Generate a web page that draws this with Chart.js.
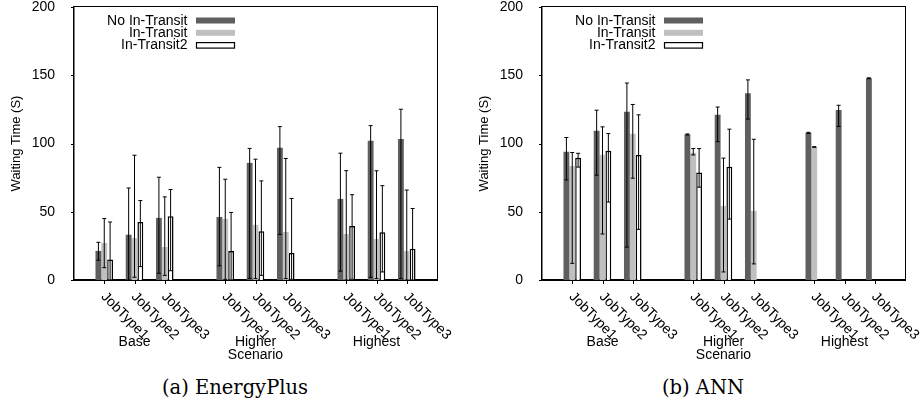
<!DOCTYPE html>
<html>
<head>
<meta charset="utf-8">
<script src="https://cdn.jsdelivr.net/npm/chart.js@4.4.1/dist/chart.umd.min.js"></script>
<style>
  html, body { margin: 0; padding: 0; background: #fff; }
  #page { position: relative; width: 923px; height: 406px; overflow: hidden; }
  .panel { position: absolute; top: 0; }
  .caption {
    position: absolute; top: 376px; width: 300px; text-align: center;
    font-family: "DejaVu Serif", serif; font-size: 19.5px; line-height: 24px; color: #000;
  }
  .frame { position: absolute; box-sizing: border-box; border: 1.5px solid #000; pointer-events: none; }
  .tick { position: absolute; background: #000; pointer-events: none; }
</style>
</head>
<body>
<div id="page">
  <canvas id="energyPlus" class="panel" width="461" height="370" style="left:0"></canvas>
  <canvas id="ann" class="panel" width="455" height="370" style="left:468px"></canvas>
  <div class="caption" style="left:85px">(a) EnergyPlus</div>
  <div class="caption" style="left:553px">(b) ANN</div>
</div>
<script>
const jobTypes = ["JobType1", "JobType2", "JobType3"];
const scenarios = [["Base"], ["Higher", "Scenario"], ["Highest"]];
const seriesNames = ["No In-Transit", "In-Transit", "In-Transit2"];
const yTicks = [0, 50, 100, 150, 200];

// (a) EnergyPlus, order: Base JT1..3, Higher JT1..3, Highest JT1..3
const epNoTransit      = [21.3, 33.2, 45.5, 46.2, 85.8, 96.8, 59.4, 102.0, 103.3];
const epNoTransitLow   = [14.5, 0, 4.9, 10.4, 1.2, 33.4, 6.5, 2.0, 1.0];
const epNoTransitHigh  = [27.6, 67.4, 75.3, 82.5, 96.4, 112.4, 92.9, 113.1, 125.1];
const epTransit        = [27.1, 30.8, 24.2, 44.7, 40.4, 35.2, 33.7, 30.1, 21.2];
const epTransitLow     = [9.0, 2.0, 3.4, 0.5, 1.0, 1.0, 0, 1.0, 0];
const epTransitHigh    = [45.0, 91.4, 60.9, 73.8, 88.5, 89.0, 80.1, 80.0, 65.9];
const epTransit2       = [15.1, 42.5, 46.7, 21.2, 35.7, 19.7, 39.5, 35.0, 22.9];
const epTransit2Low    = [0, 9.8, 6.8, 0, 3.4, 0.5, 0.5, 5.9, 0];
const epTransit2High   = [42.5, 58.2, 66.3, 49.5, 72.6, 59.7, 62.5, 69.1, 52.4];

// (b) ANN
const annNoTransit     = [93.9, 109.3, 123.2, 106.6, 121.0, 136.9, 107.8, 124.5, 147.8];
const annNoTransitLow  = [73.3, 76.8, 24.1, 106.2, 101.3, 117.9, 107.4, 112.5, 147.5];
const annNoTransitHigh = [104.4, 124.4, 144.3, 107.0, 126.7, 146.6, 108.2, 128.0, 148.1];
const annTransit       = [83.6, 91.7, 107.1, 93.2, 54.3, 50.6, 97.4, 0, 0];
const annTransitLow    = [12.2, 33.7, 74.6, 91.6, 5.9, 11.8, 97.2, null, null];
const annTransitHigh   = [93.4, 112.2, 128.6, 96.3, 89.3, 103.1, 97.7, null, null];
const annTransit2      = [89.5, 94.6, 91.5, 78.8, 82.9, 0, 0, 0, 0];
const annTransit2Low   = [82.7, 57.1, 37.1, 68.0, 44.6, null, null, null, null];
const annTransit2High  = [92.8, 107.3, 121.0, 96.3, 110.5, null, null, null, null];

const sansFont = '"Liberation Sans", Arial, Helvetica, sans-serif';
Chart.defaults.font.family = sansFont;
Chart.defaults.color = "#000";

// an empty slot before each scenario group and one after the last
function slots(values) {
    const out = [null];
    for (let g = 0; g < 3; g++) {
        out.push(...values.slice(g * 3, g * 3 + 3), null);
    }
    return out;
}

const xLabels = slots(jobTypes.concat(jobTypes, jobTypes)).map(l => l || "");

const barStyles = [
    { backgroundColor: "#5f5f5f", borderWidth: 0 },
    { backgroundColor: "#c0c0c0", borderWidth: 0 },
    { backgroundColor: "#ffffff", borderColor: "#000", borderWidth: 1.5 },
];

// slanted tick labels, scenario names, legend and error bars
const decorations = {
    id: "decorations",
    afterDraw(chart) {
        const ctx = chart.ctx;
        const area = chart.chartArea;
        const x = chart.scales.x;
        const y = chart.scales.y;
        ctx.save();
        ctx.fillStyle = "black";
        ctx.strokeStyle = "black";
        ctx.font = "14px " + sansFont;
        xLabels.forEach((label, i) => {
            if (!label) return;
            const px = x.getPixelForValue(i);
            ctx.save();
            ctx.translate(px - 1, area.bottom + 14.5);
            ctx.rotate(Math.PI / 4);
            ctx.textAlign = "left";
            ctx.textBaseline = "middle";
            ctx.fillText(label, 0, 0);
            ctx.restore();
        });

        ctx.textAlign = "center";
        ctx.textBaseline = "middle";
        scenarios.forEach((lines, g) => {
            const px = x.getPixelForValue(g * 4 + 2);
            lines.forEach((line, k) => {
                ctx.fillText(line, px, area.bottom + 62.5 + k * 13);
            });
        });

        chart.data.datasets.forEach((ds, i) => {
            const rowY = area.top + 13.5 + i * 12.3;
            ctx.textAlign = "right";
            ctx.fillText(ds.label, area.left + 113.5, rowY + 0.5);
            ctx.fillStyle = ds.backgroundColor;
            ctx.fillRect(area.left + 122, rowY - 3, 39, 6);
            if (ds.borderWidth) {
                ctx.lineWidth = 1.2;
                ctx.strokeRect(area.left + 122.5, rowY - 2.5, 38, 5.5);
            }
            ctx.fillStyle = "black";
        });

        ctx.lineWidth = 1;
        chart.data.datasets.forEach((ds, i) => {
            chart.getDatasetMeta(i).data.forEach((bar, j) => {
                const lo = ds.errLow[j], hi = ds.errHigh[j];
                if (lo == null || hi == null) return;
                const yLo = y.getPixelForValue(lo);
                const yHi = y.getPixelForValue(hi);
                ctx.beginPath();
                ctx.moveTo(bar.x, yLo); ctx.lineTo(bar.x, yHi);
                ctx.moveTo(bar.x - 2, yLo); ctx.lineTo(bar.x + 2, yLo);
                ctx.moveTo(bar.x - 2, yHi); ctx.lineTo(bar.x + 2, yHi);
                ctx.stroke();
            });
        });
        ctx.restore();
    }
};

// plot frame and outward tick marks as overlays, placed from the chart's own area and scales
function addFrame(chart, canvas) {
    const page = document.getElementById("page");
    const area = chart.chartArea;
    const x = chart.scales.x;
    const y = chart.scales.y;
    const left = canvas.offsetLeft;
    const frame = document.createElement("div");
    frame.className = "frame";
    frame.style.left = (left + area.left - 0.75) + "px";
    frame.style.top = (area.top - 0.75) + "px";
    frame.style.width = (area.right - area.left + 1.5) + "px";
    frame.style.height = (area.bottom - area.top + 1.5) + "px";
    page.appendChild(frame);

    const addTick = (l, t, w, h) => {
        const d = document.createElement("div");
        d.className = "tick";
        d.style.left = l + "px";
        d.style.top = t + "px";
        d.style.width = w + "px";
        d.style.height = h + "px";
        page.appendChild(d);
    };
    xLabels.forEach((label, i) => {
        if (!label) return;
        addTick(left + Math.round(x.getPixelForValue(i)), area.bottom, 1, 4);
    });
    yTicks.forEach(v => {
        addTick(left + area.left - 3.5, Math.round(y.getPixelForValue(v)), 3, 1);
    });
}

function makeChart(canvasId, rightPad, values, lows, highs) {
    const datasets = seriesNames.map((name, i) => Object.assign({
        label: name,
        data: slots(values[i]),
        errLow: slots(lows[i]),
        errHigh: slots(highs[i]),
        categoryPercentage: 0.58,
        barPercentage: 1,
        borderSkipped: "start",
    }, barStyles[i]));

    const canvas = document.getElementById(canvasId);
    const chart = new Chart(canvas, {
        type: "bar",
        data: { labels: xLabels, datasets },
        options: {
            responsive: false,
            animation: false,
            layout: { padding: { top: 7, right: rightPad, bottom: 0, left: 0 } },
            plugins: { legend: { display: false }, tooltip: { enabled: false } },
            scales: {
                x: {
                    offset: false,
                    ticks: { display: false },
                    border: { display: true, color: "#000", width: 1.5 },
                    grid: { offset: false, display: false },
                    afterFit: s => { s.height = 90; s.paddingLeft = 0; s.paddingRight = 0; },
                },
                y: {
                    min: 0,
                    max: 200,
                    afterBuildTicks: s => { s.ticks = yTicks.map(v => ({ value: v })); },
                    ticks: { font: { size: 14 }, padding: 11, color: "#000" },
                    border: { display: true, color: "#000", width: 1.5 },
                    grid: { display: false },
                    title: {
                        display: true,
                        text: "Waiting Time (S)",
                        font: { size: 13 },
                        padding: { top: 8.5, bottom: 0 },
                    },
                    afterFit: s => { s.width = 74; s.paddingTop = 0; s.paddingBottom = 0; },
                },
            },
        },
        plugins: [decorations],
    });
    addFrame(chart, canvas);
    return chart;
}

makeChart("energyPlus", 24,
    [epNoTransit, epTransit, epTransit2],
    [epNoTransitLow, epTransitLow, epTransit2Low],
    [epNoTransitHigh, epTransitHigh, epTransit2High]);

makeChart("ann", 18,
    [annNoTransit, annTransit, annTransit2],
    [annNoTransitLow, annTransitLow, annTransit2Low],
    [annNoTransitHigh, annTransitHigh, annTransit2High]);
</script>
</body>
</html>
